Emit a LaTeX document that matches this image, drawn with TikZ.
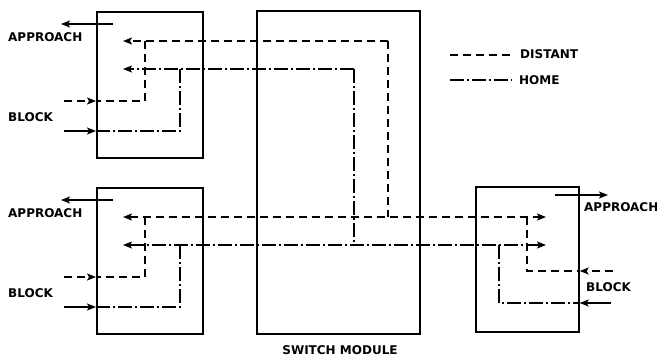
\documentclass[tikz,border=0pt]{standalone}
\usepackage{fontspec}
\setmainfont{DejaVu Sans}
\usetikzlibrary{arrows.meta}

\begin{document}
\begin{tikzpicture}
	[x=1pt, y=-1pt,
	box/.style={draw, line width=1.7pt, inner sep=0pt, anchor=north west},
	lbl/.style={font=\bfseries\fontsize{12}{12}\selectfont, inner sep=0pt, anchor=west},
	sig/.style={line width=1.4pt},
	distant/.style={sig, dash pattern=on 8pt off 5pt},
	home/.style={sig, dash pattern=on 14pt off 3pt on 2pt off 3pt},
	sigarrow/.style={-{Stealth[length=9pt, width=7pt, inset=2pt]}},
	twoarrows/.style={{Stealth[length=9pt, width=7pt, inset=2pt]}-{Stealth[length=9pt, width=7pt, inset=2pt]}}]

	\useasboundingbox (0,0) rectangle (657,358);

	% left boxes
	\foreach \b/\dy in {A/0, B/176}
	{\begin{scope}[shift={(96,11+\dy)}]
		\node[box, minimum width=106pt, minimum height=146pt] (box\b) at (0,0) {};
		\coordinate (ap\b) at (17,13);
		\coordinate (apE\b) at (-35,13);
		\draw[sig, sigarrow] (ap\b) -- (apE\b);
		\node[lbl] (appr\b) at (-88,26) {APPROACH};
		\node[lbl] (block\b) at (-88,106) {BLOCK};
		\coordinate (dt\b) at (27,30);
		\coordinate (dv\b) at (49,30);
		\coordinate (db\b) at (49,90);
		\coordinate (ds\b) at (-32,90);
		\coordinate (ht\b) at (27,58);
		\coordinate (hv\b) at (84,58);
		\coordinate (hb\b) at (84,120);
		\coordinate (hs\b) at (-32,120);
		\draw[distant] (dv\b) -- (db\b) -- (db\b -| box\b.west);
		\draw[distant, sigarrow] (ds\b) -- (db\b -| box\b.west);
		\draw[home] (hv\b) -- (hb\b) -- (hb\b -| box\b.west);
		\draw[sig, sigarrow] (hs\b) -- (hb\b -| box\b.west);
	\end{scope}
	}

	% switch module
	\node[box, minimum width=163pt, minimum height=323pt] (switch) at (256,10) {};
	\node[lbl, anchor=center] (swlbl) at (340,350) {SWITCH MODULE};
	\coordinate (jD) at (388,0);
	\coordinate (jH) at (354,0);

	% right box
	\node[box, minimum width=103pt, minimum height=145pt] (boxC) at (475,186) {};
	\coordinate (apC) at (555,195);
	\coordinate (apEC) at (608,195);
	\draw[sig, sigarrow] (apC) -- (apEC);
	\node[lbl] (apprC) at (584,207) {APPROACH};
	\node[lbl] (blockC) at (586,287) {BLOCK};
	\coordinate (dtC) at (546,217);
	\coordinate (dvC) at (527,217);
	\coordinate (dbC) at (527,271);
	\coordinate (dsC) at (613,271);
	\coordinate (htC) at (546,245);
	\coordinate (hvC) at (499,245);
	\coordinate (hbC) at (499,303);
	\coordinate (hsC) at (611,303);
	\draw[distant] (dvC) -- (dbC) -- (dbC -| boxC.east);
	\draw[distant, sigarrow] (dsC) -- (dbC -| boxC.east);
	\draw[home] (hvC) -- (hbC) -- (hbC -| boxC.east);
	\draw[sig, sigarrow] (hsC) -- (hbC -| boxC.east);

	% lines through the switch
	\draw[distant, sigarrow] (dtA -| jD) -- (dtA);
	\draw[distant] (dtA -| jD) -- (dtB -| jD);
	\draw[distant, twoarrows] (dtB) -- (dtC);
	\draw[home, sigarrow] (htA -| jH) -- (htA);
	\draw[home] (htA -| jH) -- (htB -| jH);
	\draw[home, twoarrows] (htB) -- (htC);

	% legend
	\coordinate (legDa) at (450,55);
	\coordinate (legDb) at (510,55);
	\coordinate (legHa) at (450,80);
	\coordinate (legHb) at (512,80);
	\draw[distant] (legDa) -- (legDb);
	\draw[home] (legHa) -- (legHb);
	\node[lbl] (legD) at (520,54) {DISTANT};
	\node[lbl] (legH) at (519,80) {HOME};
\end{tikzpicture}
\end{document}
